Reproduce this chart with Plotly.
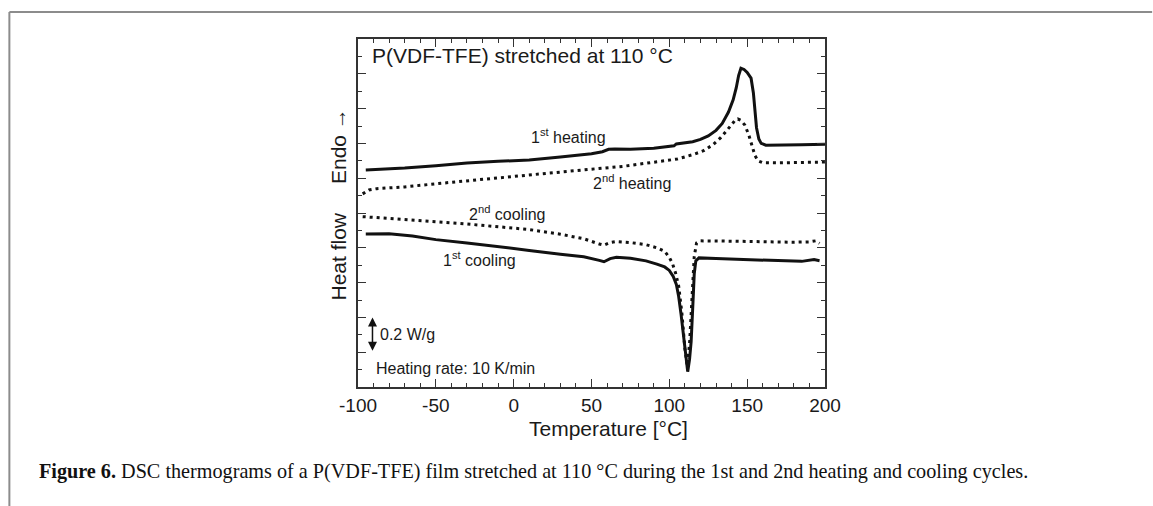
import plotly.graph_objects as go

# ---- data (temperature in °C, heat flow in W/g, offset) ----
heat1_T = [-95, -85, -70, -50, -30, -10, 10, 30, 50, 57, 61, 65, 75, 90, 100, 103, 104.5, 110, 115,
           120, 125, 130, 134, 138, 141, 143, 144.5, 146, 148, 150, 152.5, 154, 155, 156, 157.5, 159,
           162, 170, 185, 200]
heat1_Q = [1.247, 1.250, 1.258, 1.272, 1.287, 1.297, 1.305, 1.322, 1.340, 1.352, 1.366, 1.368, 1.366,
           1.372, 1.380, 1.386, 1.397, 1.402, 1.410, 1.423, 1.443, 1.475, 1.515, 1.580, 1.650, 1.720,
           1.790, 1.832, 1.825, 1.808, 1.775, 1.690, 1.580, 1.490, 1.425, 1.400, 1.390, 1.390, 1.392,
           1.395]

heat2_T = [-97, -93, -88, -70, -50, -30, -10, 10, 30, 50, 70, 90, 105, 115, 122, 128, 133, 137, 140,
           142, 144, 146, 148.5, 151, 153, 155, 157, 160, 170, 185, 200]
heat2_Q = [1.110, 1.132, 1.140, 1.150, 1.168, 1.185, 1.205, 1.222, 1.238, 1.252, 1.268, 1.290, 1.310,
           1.335, 1.358, 1.392, 1.433, 1.475, 1.505, 1.530, 1.540, 1.532, 1.505, 1.450, 1.390, 1.330,
           1.300, 1.289, 1.288, 1.290, 1.293]

cool2_T = [-97, -90, -70, -50, -30, -10, 10, 30, 45, 55, 58, 62, 66, 75, 85, 92, 97, 100, 102, 104,
           106, 108, 110, 111.5, 113, 114.5, 116, 117.5, 120, 140, 160, 180, 190, 194, 196.5]
cool2_Q = [0.979, 0.975, 0.965, 0.950, 0.937, 0.922, 0.905, 0.878, 0.852, 0.822, 0.815, 0.830, 0.836,
           0.830, 0.818, 0.800, 0.780, 0.745, 0.710, 0.655, 0.580, 0.430, 0.220, 0.120, 0.250, 0.500,
           0.750, 0.828, 0.840, 0.838, 0.834, 0.832, 0.834, 0.840, 0.826]

cool1_T = [-95, -80, -65, -50, -30, -10, 10, 30, 45, 55, 58, 62, 66, 75, 85, 92, 97, 100, 102.5,
           104.5, 106, 107.5, 109, 110.5, 111.8, 113, 114, 115, 116, 117, 119, 130, 150, 170, 185,
           193, 196.5]
cool1_Q = [0.879, 0.881, 0.868, 0.847, 0.828, 0.808, 0.785, 0.763, 0.748, 0.728, 0.720, 0.738, 0.746,
           0.740, 0.725, 0.706, 0.690, 0.670, 0.635, 0.590, 0.520, 0.420, 0.300, 0.160, 0.088, 0.160,
           0.260, 0.450, 0.650, 0.725, 0.742, 0.738, 0.732, 0.728, 0.722, 0.732, 0.726]

x_tick_vals = [-100, -50, 0, 50, 100, 150, 200]
x_tick_text = ["-100", "-50", "0", "50", "100", "150", "200"]

INK = "#111111"
AX = "#333333"
SANS = "Liberation Sans, Arial, sans-serif"
SERIF = "Liberation Serif, Times New Roman, serif"

fig = go.Figure()
solid = dict(color=INK, width=3)
dotted = dict(color=INK, width=3, dash="3px,4px")
fig.add_trace(go.Scatter(x=heat1_T, y=heat1_Q, mode="lines", line=solid, name="1st heating"))
fig.add_trace(go.Scatter(x=heat2_T, y=heat2_Q, mode="lines", line=dotted, name="2nd heating"))
fig.add_trace(go.Scatter(x=cool2_T, y=cool2_Q, mode="lines", line=dotted, name="2nd cooling"))
fig.add_trace(go.Scatter(x=cool1_T, y=cool1_Q, mode="lines", line=solid, name="1st cooling"))

L, R, T, B = 358, 1153 - 825.5, 39, 506 - 387
PW, PH = 1153 - L - R, 506 - T - B

def px2paper(px, py):
    return (px - L) / PW, (506 - B - py) / PH

ann = []
def lab(text, x, y, size, xanchor="left", **kw):
    ann.append(dict(text=text, x=x, y=y, xref="x", yref="y", showarrow=False,
                    xanchor=xanchor, yanchor="middle",
                    font=dict(family=SANS, size=size, color="#1a1a1a"), **kw))

lab("P(VDF-TFE) stretched at 110 °C", -92, 1.905, 21)
lab("1<sup>st</sup> heating", 10, 1.44, 16)
lab("2<sup>nd</sup> heating", 49.5, 1.178, 16)
lab("2<sup>nd</sup> cooling", -30, 1.002, 16)
lab("1<sup>st</sup> cooling", -47, 0.738, 16)
lab("0.2 W/g", -87, 0.299, 16)
lab("Heating rate: 10 K/min", -90, 0.109, 16)

# scale bar (0.2 W/g) double arrow
ann.append(dict(x=-90.7, y=0.40, ax=-90.7, ay=0.20, xref="x", yref="y", axref="x", ayref="y",
                showarrow=True, arrowhead=2, arrowside="end+start", arrowsize=1.2, arrowwidth=1.5,
                arrowcolor=INK, text=""))

# axis titles
xa, ya = px2paper(609, 428)
ann.append(dict(text="Temperature [°C]", x=xa, y=ya, xref="paper", yref="paper", showarrow=False,
                xanchor="center", yanchor="middle", font=dict(family=SANS, size=21, color="#1a1a1a")))
xa, ya = px2paper(338, 256.5)
ann.append(dict(text="Heat flow", x=xa, y=ya, xref="paper", yref="paper", showarrow=False, textangle=-90,
                xanchor="center", yanchor="middle", font=dict(family=SANS, size=21, color="#1a1a1a")))
xa, ya = px2paper(338, 146)
ann.append(dict(text="Endo →", x=xa, y=ya, xref="paper", yref="paper", showarrow=False, textangle=-90,
                xanchor="center", yanchor="middle", font=dict(family=SANS, size=21, color="#1a1a1a")))

# caption
xa, ya = px2paper(36.5, 471.5)
ann.append(dict(text="<b>Figure 6.</b> DSC thermograms of a P(VDF-TFE) film stretched at 110 °C during the 1st and 2nd heating and cooling cycles.",
                x=xa, y=ya, xref="paper", yref="paper", showarrow=False, xanchor="left", yanchor="middle",
                font=dict(family=SERIF, size=20.2, color="#111111")))

# page frame lines (top and left)
x0, y0 = px2paper(9, 12)
x1, _ = px2paper(1153, 12)
_, y1 = px2paper(9, 506)
shapes = [
    dict(type="line", xref="paper", yref="paper", x0=x0, y0=y0, x1=x1, y1=y0,
         line=dict(color="#8c8c8c", width=2)),
    dict(type="line", xref="paper", yref="paper", x0=x0, y0=y0, x1=x0, y1=y1,
         line=dict(color="#8c8c8c", width=2)),
]

fig.update_layout(
    width=1153, height=506,
    margin=dict(l=L, r=R, t=T, b=B, pad=0),
    paper_bgcolor="white", plot_bgcolor="white",
    showlegend=False,
    annotations=ann, shapes=shapes,
    xaxis=dict(range=[-100, 200], tickvals=x_tick_vals, ticktext=x_tick_text,
               ticks="inside", ticklen=8, tickwidth=1.3, tickcolor=AX,
               minor=dict(dtick=10, tick0=0, ticks="inside", ticklen=4, tickwidth=1.2, tickcolor=AX),
               showline=True, linecolor=AX, linewidth=1.5, mirror="ticks",
               showgrid=False, zeroline=False,
               tickfont=dict(family=SANS, size=19, color="#1a1a1a")),
    yaxis=dict(range=[0, 2.0], dtick=0.2, tick0=0, showticklabels=False,
               ticks="inside", ticklen=8, tickwidth=1.3, tickcolor=AX,
               minor=dict(dtick=0.1, tick0=0, ticks="inside", ticklen=4, tickwidth=1.2, tickcolor=AX),
               showline=True, linecolor=AX, linewidth=1.5, mirror="ticks",
               showgrid=False, zeroline=False),
)

fig.write_html("out.html", config={"displayModeBar": False},
               post_script="document.body.style.margin='0';document.body.style.padding='0';")
